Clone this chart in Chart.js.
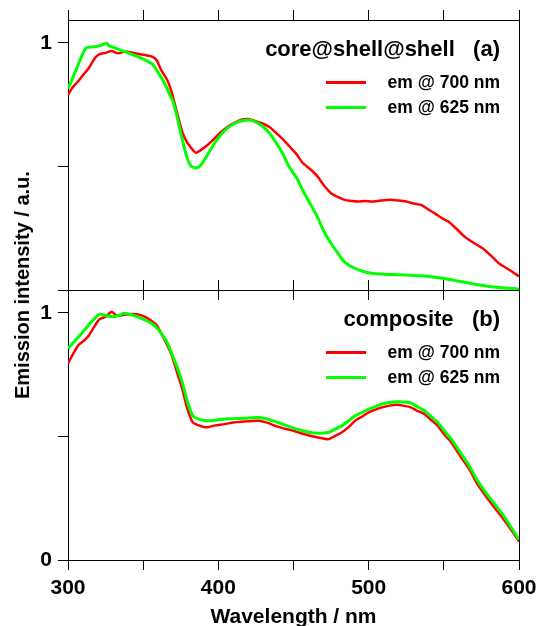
<!DOCTYPE html>
<html>
<head>
<meta charset="utf-8">
<script src="https://cdn.jsdelivr.net/npm/chart.js@4.4.0/dist/chart.umd.min.js"></script>
<style>
  html, body { margin: 0; padding: 0; background: #fff; overflow: hidden; }
  #wrap { position: relative; width: 541px; height: 626px; font-family: 'Liberation Sans', Arial, sans-serif; font-weight: bold; color: #000; }
  canvas { position: absolute; left: 0; }
  .txt { position: absolute; white-space: pre; line-height: 1; }
  .sw { position: absolute; left: 326px; width: 40px; height: 3px; }
  #ytitle { position: absolute; left: 22px; top: 285px; font-size: 20px; line-height: 1; white-space: nowrap;
            transform: translate(-50%, -50%) rotate(-90deg); }
</style>
</head>
<body>
<div id="wrap">
  <canvas id="topChart" width="541" height="300" style="top:0"></canvas>
  <canvas id="botChart" width="541" height="360" style="top:280px"></canvas>

  <div id="ytitle">Emission intensity / a.u.</div>

  <div class="txt" style="right:41px; top:38px; font-size:22px">core@shell@shell   (a)</div>
  <div class="sw" style="top:81px; background:#ff0000"></div>
  <div class="txt" style="right:41px; top:74px; font-size:17.5px">em @ 700 nm</div>
  <div class="sw" style="top:106px; background:#00ff00"></div>
  <div class="txt" style="right:41px; top:99px; font-size:17.5px">em @ 625 nm</div>

  <div class="txt" style="right:41px; top:308px; font-size:22px">composite   (b)</div>
  <div class="sw" style="top:351px; background:#ff0000"></div>
  <div class="txt" style="right:41px; top:344px; font-size:17.5px">em @ 700 nm</div>
  <div class="sw" style="top:376px; background:#00ff00"></div>
  <div class="txt" style="right:41px; top:369px; font-size:17.5px">em @ 625 nm</div>
</div>

<script>
// (a) core@shell@shell, em @ 700 nm
const topRedWl = [300, 303, 306, 310, 314, 318, 321, 325, 329, 333, 338, 342, 347, 352, 356, 359, 362, 366, 369, 372,
  376, 379, 382, 385, 388, 392, 396, 401, 406, 411, 416, 420, 424, 429, 434, 438, 443, 447, 452, 456,
  461, 466, 470, 475, 480, 484, 489, 493, 498, 502, 508, 514, 520, 525, 530, 535, 540, 544, 549, 553,
  558, 564, 570, 576, 582, 587, 594, 600];
const topRedVal = [0.79, 0.82, 0.84, 0.87, 0.90, 0.94, 0.955, 0.96, 0.968, 0.958, 0.965, 0.962, 0.955, 0.95, 0.945, 0.93, 0.89, 0.85, 0.80, 0.73,
  0.64, 0.60, 0.575, 0.556, 0.565, 0.583, 0.605, 0.635, 0.66, 0.678, 0.69, 0.692, 0.685, 0.675, 0.66, 0.638, 0.61, 0.583, 0.55, 0.515,
  0.49, 0.46, 0.425, 0.392, 0.375, 0.365, 0.36, 0.358, 0.36, 0.358, 0.362, 0.365, 0.362, 0.358, 0.35, 0.344, 0.325, 0.31, 0.29, 0.277,
  0.25, 0.215, 0.19, 0.168, 0.135, 0.106, 0.08, 0.055];

// (a) core@shell@shell, em @ 625 nm
const topGreenWl = [300, 304, 308, 312, 318, 322, 325.5, 327, 332, 338, 344, 350, 356, 360, 364, 367, 370, 373, 376, 379,
  382, 386, 389, 392, 396, 401, 406, 411, 416, 420, 425, 429, 434, 438, 443, 447, 452, 456, 461, 466,
  470, 475, 480, 484, 490, 496, 502, 510, 520, 530, 540, 548, 556, 564, 572, 580, 590, 600];
const topGreenVal = [0.815, 0.87, 0.93, 0.98, 0.985, 0.99, 1.0, 0.99, 0.978, 0.965, 0.95, 0.935, 0.915, 0.88, 0.84, 0.80, 0.76, 0.69, 0.61, 0.54,
  0.50, 0.495, 0.51, 0.54, 0.58, 0.624, 0.655, 0.675, 0.685, 0.688, 0.68, 0.665, 0.635, 0.60, 0.55, 0.50, 0.455, 0.405, 0.35, 0.295,
  0.24, 0.188, 0.145, 0.113, 0.09, 0.076, 0.068, 0.064, 0.062, 0.059, 0.055, 0.049, 0.04, 0.031, 0.022, 0.014, 0.008, 0.004];

// (b) composite, em @ 700 nm
const botRedWl = [300, 303, 307, 311, 314, 318, 321, 325, 329, 332, 335, 340, 346, 351, 355, 359, 362, 366, 369, 372,
  376, 379, 383, 387, 392, 398, 404, 410, 415, 421, 427, 433, 438, 444, 450, 455, 461, 467, 473, 477,
  482, 487, 491, 496, 500, 505, 509, 514, 518.5, 523, 528, 532, 537, 541, 546, 550, 555, 561, 567, 572,
  578, 584, 590, 595, 600];
const botRedVal = [0.795, 0.83, 0.87, 0.89, 0.91, 0.95, 0.975, 0.985, 1.005, 0.99, 0.99, 0.995, 0.995, 0.985, 0.97, 0.95, 0.917, 0.87, 0.829, 0.77,
  0.693, 0.62, 0.557, 0.545, 0.537, 0.545, 0.55, 0.557, 0.56, 0.562, 0.564, 0.555, 0.543, 0.532, 0.523, 0.513, 0.503, 0.495, 0.489, 0.50,
  0.516, 0.54, 0.564, 0.582, 0.598, 0.61, 0.618, 0.625, 0.628, 0.625, 0.618, 0.605, 0.591, 0.57, 0.543, 0.51, 0.476, 0.42, 0.367, 0.31,
  0.258, 0.21, 0.163, 0.12, 0.075];

// (b) composite, em @ 625 nm
const botGreenWl = [300, 305, 310, 315, 321, 325, 330, 334, 337, 341, 346, 351, 355.5, 359, 362, 366, 369, 372, 376, 379,
  383, 387, 392, 398, 404, 410, 415, 421, 427, 433, 438, 444, 450, 455, 461, 467, 473, 477, 482, 487,
  491, 496, 500, 505, 509, 514, 518.5, 523, 528, 532, 537, 541, 546, 550, 555, 561, 567, 572, 578, 584,
  590, 595, 600];
const botGreenVal = [0.856, 0.89, 0.924, 0.96, 0.995, 0.99, 0.985, 0.99, 0.999, 0.995, 0.985, 0.972, 0.958, 0.94, 0.917, 0.88, 0.836, 0.79, 0.72, 0.65,
  0.584, 0.57, 0.564, 0.566, 0.571, 0.572, 0.573, 0.575, 0.577, 0.57, 0.56, 0.547, 0.534, 0.525, 0.516, 0.513, 0.516, 0.528, 0.543, 0.565,
  0.584, 0.598, 0.611, 0.622, 0.632, 0.638, 0.641, 0.64, 0.636, 0.622, 0.605, 0.583, 0.557, 0.525, 0.489, 0.435, 0.38, 0.325, 0.272, 0.225,
  0.177, 0.13, 0.082];

const xMin = 300, xMax = 600, yMax = 1.093;

Chart.defaults.font.family = "'Liberation Sans', Arial, sans-serif";
Chart.defaults.font.weight = 'bold';
Chart.defaults.color = '#000';

function pts(xs, ys) {
  return xs.map((x, i) => ({ x: x, y: ys[i] }));
}

function lineSet(xs, ys, color, width) {
  return {
    data: pts(xs, ys),
    borderColor: color,
    borderWidth: width,
    pointRadius: 0,
    tension: 0.2,
    fill: false
  };
}

// fix an axis box to an exact size and drop the label overflow padding
function fixSize(prop, size) {
  return s => {
    s[prop] = size;
    s.paddingTop = 0;
    s.paddingBottom = 0;
    s.paddingLeft = 0;
    s.paddingRight = 0;
  };
}

function xAxis(pos, size, showLabels) {
  return {
    type: 'linear',
    position: pos,
    min: xMin,
    max: xMax,
    ticks: {
      stepSize: 50,
      display: showLabels,
      autoSkip: false,
      maxRotation: 0,
      padding: 6,
      font: { size: 21, weight: 'bold' },
      callback: v => (v % 100 === 0 ? String(v) : '')
    },
    grid: { drawOnChartArea: false, tickLength: 10, color: '#000', lineWidth: 1 },
    border: { display: true, color: '#000', width: 1 },
    title: showLabels ? {
      display: true,
      text: 'Wavelength / nm',
      font: { size: 21, weight: 'bold' },
      padding: { top: 0, bottom: 10 }
    } : { display: false },
    afterFit: fixSize('height', size)
  };
}

function yAxis(labels) {
  return {
    type: 'linear',
    position: 'left',
    min: 0,
    max: yMax,
    ticks: {
      stepSize: 0.5,
      includeBounds: false,
      padding: 6,
      font: { size: 21, weight: 'bold' },
      callback: v => (labels.includes(v) ? String(v) : '')
    },
    grid: { drawOnChartArea: false, tickLength: 10, color: '#000', lineWidth: 1 },
    border: { display: true, color: '#000', width: 1 },
    afterFit: fixSize('width', 68)
  };
}

function yRight() {
  return {
    type: 'linear',
    position: 'right',
    min: 0,
    max: yMax,
    ticks: { display: false },
    grid: { display: false },
    border: { display: true, color: '#000', width: 1 },
    afterFit: fixSize('width', 22)
  };
}

function makeChart(id, redX, redY, greenX, greenY, topSize, bottomSize, yLabels) {
  const ctx = document.getElementById(id).getContext('2d');
  return new Chart(ctx, {
    type: 'line',
    data: {
      datasets: [
        lineSet(greenX, greenY, '#00ff00', 3),
        lineSet(redX, redY, '#ff0000', 2.5)
      ]
    },
    options: {
      responsive: false,
      animation: false,
      layout: { padding: 0, autoPadding: false },
      plugins: { legend: { display: false }, tooltip: { enabled: false } },
      scales: {
        x: xAxis('bottom', bottomSize, bottomSize > 20),
        xTop: xAxis('top', topSize, false),
        y: yAxis(yLabels),
        yR: yRight()
      }
    }
  });
}

makeChart('topChart', topRedWl, topRedVal, topGreenWl, topGreenVal, 20, 10, [1]);
makeChart('botChart', botRedWl, botRedVal, botGreenWl, botGreenVal, 10, 80, [0, 1]);
</script>
</body>
</html>
